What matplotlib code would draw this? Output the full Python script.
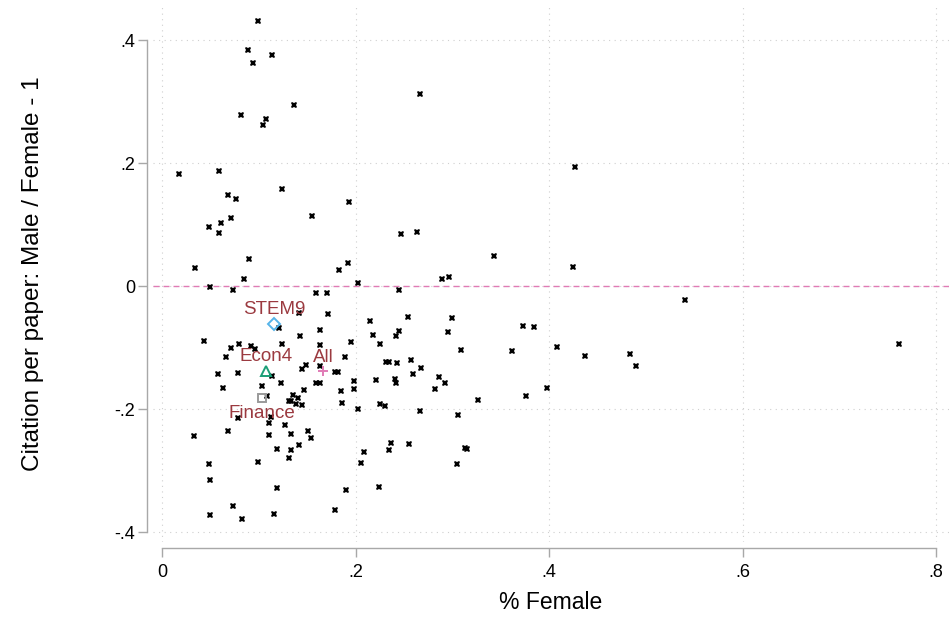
import numpy as np
import matplotlib.pyplot as plt

plt.rcParams['font.family'] = ['Liberation Sans', 'DejaVu Sans']

PNG_FILE = "out.png"

# share of female authors per field and male/female citation gap
pct_female = [
    0.0995, 0.0889, 0.1140, 0.0940, 0.2667, 0.1361, 0.0820, 0.1080, 0.1047, 0.0176,
    0.0592, 0.0679, 0.0765, 0.1240, 0.1936, 0.4269, 0.0483, 0.0607, 0.0713, 0.0592,
    0.1550, 0.2467, 0.2632, 0.0341, 0.0899, 0.0851, 0.0496, 0.0734, 0.1829, 0.1926,
    0.2026, 0.2891, 0.2970, 0.1595, 0.1705, 0.2446, 0.1416, 0.1209, 0.1716, 0.2150,
    0.2543, 0.1633, 0.1429, 0.2184, 0.2450, 0.2419, 0.0431, 0.0716, 0.0799, 0.0920,
    0.0961, 0.1243, 0.1630, 0.1950, 0.2256, 0.2956, 0.2993, 0.0665, 0.0579, 0.0789,
    0.0627, 0.1037, 0.1089, 0.1140, 0.1233, 0.1450, 0.1485, 0.1630, 0.1592, 0.1630,
    0.1471, 0.1891, 0.1788, 0.1822, 0.1847, 0.1984, 0.1981, 0.1354, 0.1402, 0.1312,
    0.1333, 0.1388, 0.1444, 0.1864, 0.2029, 0.2209, 0.2315, 0.2346, 0.2426, 0.2411,
    0.2422, 0.2574, 0.2598, 0.2677, 0.2825, 0.2863, 0.2928, 0.2256, 0.2308, 0.2663,
    0.0786, 0.1124, 0.1109, 0.1274, 0.0682, 0.0334, 0.1106, 0.1330, 0.1506, 0.1543,
    0.1189, 0.1330, 0.1419, 0.1316, 0.2084, 0.2057, 0.2370, 0.2346, 0.2553, 0.0989,
    0.0484, 0.0496, 0.1189, 0.1899, 0.2243, 0.0737, 0.0496, 0.0824, 0.1158, 0.1788,
    0.3428, 0.4251, 0.5409, 0.7614, 0.3734, 0.3848, 0.3094, 0.3621, 0.4083, 0.4375,
    0.4834, 0.4896, 0.3269, 0.3759, 0.3979, 0.3056, 0.3135, 0.3149, 0.3052,
]
cite_gap = [
    0.4310, 0.3850, 0.3760, 0.3630, 0.3130, 0.2940, 0.2790, 0.2720, 0.2630, 0.1830,
    0.1870, 0.1480, 0.1420, 0.1580, 0.1370, 0.1935, 0.0960, 0.1030, 0.1106, 0.0867,
    0.1138, 0.0846, 0.0888, 0.0302, 0.0449, 0.0124, -0.0016, -0.0055, 0.0260, 0.0379,
    0.0049, 0.0114, 0.0151, -0.0114, -0.0109, -0.0065, -0.0429, -0.0673, -0.0455, -0.0559,
    -0.0494, -0.0715, -0.0808, -0.0792, -0.0732, -0.0808, -0.0894, -0.0998, -0.0943, -0.0971,
    -0.1020, -0.0938, -0.0950, -0.0911, -0.0938, -0.0748, -0.0520, -0.1154, -0.1421, -0.1415,
    -0.1659, -0.1626, -0.1789, -0.1459, -0.1572, -0.1345, -0.1280, -0.1296, -0.1577, -0.1577,
    -0.1686, -0.1150, -0.1393, -0.1393, -0.1698, -0.1545, -0.1670, -0.1767, -0.1821, -0.1865,
    -0.1865, -0.1919, -0.1925, -0.1902, -0.1990, -0.1528, -0.1236, -0.1236, -0.1247, -0.1502,
    -0.1577, -0.1203, -0.1421, -0.1333, -0.1675, -0.1470, -0.1567, -0.1909, -0.1951, -0.2028,
    -0.2146, -0.2130, -0.2223, -0.2255, -0.2348, -0.2429, -0.2418, -0.2407, -0.2353, -0.2462,
    -0.2646, -0.2657, -0.2585, -0.2792, -0.2699, -0.2873, -0.2543, -0.2662, -0.2564, -0.2857,
    -0.2894, -0.3145, -0.3285, -0.3312, -0.3259, -0.3567, -0.3719, -0.3784, -0.3698, -0.3642,
    0.0493, 0.0319, -0.0228, -0.0943, -0.0641, -0.0662, -0.1036, -0.1047, -0.0987, -0.1138,
    -0.1096, -0.1291, -0.1844, -0.1789, -0.1654, -0.2093, -0.2634, -0.2650, -0.2885,
]

# field-group averages
group_names = ["STEM9", "Econ4", "All", "Finance"]
group_x     = [0.1161, 0.1072, 0.1667, 0.1034]
group_y     = [-0.0613, -0.1372, -0.1382, -0.1821]

x_ticks  = [0, 0.2, 0.4, 0.6, 0.8]
x_labels = ["0", ".2", ".4", ".6", ".8"]
y_ticks  = [-0.4, -0.2, 0, 0.2, 0.4]
y_labels = ["-.4", "-.2", "0", ".2", ".4"]

AXIS_GRAY  = '#a8a8a8'
GRID_GRAY  = '#cfcfcf'
LABEL_RED  = '#9b3a40'
PINK       = '#e07bb5'

fig = plt.figure(figsize=(9.49, 6.17), dpi=100)
ax = fig.add_axes([153/949, 75/617, 796/949, 537/617])

ax.set_xlim(-0.0093, 0.8134)
ax.set_ylim(-0.4158, 0.4574)

# dotted grid at the labelled ticks
for xv in x_ticks:
    ax.axvline(xv, color=GRID_GRAY, linewidth=0.8, linestyle=(0, (1, 4)), zorder=0)
for yv in y_ticks:
    ax.axhline(yv, color=GRID_GRAY, linewidth=0.8, linestyle=(0, (1, 4)), zorder=0)

ax.axhline(0, color=PINK, linewidth=1.0, linestyle=(0, (4.3, 2.9)), zorder=1)

ax.plot(pct_female, cite_gap, linestyle='none', marker='X', markersize=4.4,
        markeredgewidth=0, color='black', zorder=3)

ax.plot(group_x[0], group_y[0], linestyle='none', marker='D', markersize=6,
        markerfacecolor='none', markeredgecolor='#56b4e9', markeredgewidth=1.4, zorder=4)
ax.plot(group_x[1], group_y[1], linestyle='none', marker='^', markersize=7,
        markerfacecolor='none', markeredgecolor='#1b9e77', markeredgewidth=1.4, zorder=4)
ax.plot(group_x[2], group_y[2], linestyle='none', marker='+', markersize=7,
        markeredgecolor=PINK, markeredgewidth=1.4, zorder=4)
ax.plot(group_x[3], group_y[3], linestyle='none', marker='s', markersize=6,
        markerfacecolor='none', markeredgecolor='#9a9a9a', markeredgewidth=1.4, zorder=4)

for name, gx, gy in zip(group_names, group_x, group_y):
    if name == "Finance":
        ax.annotate(name, (gx, gy), textcoords="offset points", xytext=(0, -5),
                    ha='center', va='top', fontsize=13.5, color=LABEL_RED, zorder=5)
    else:
        ax.annotate(name, (gx, gy), textcoords="offset points", xytext=(0, 4),
                    ha='center', va='bottom', fontsize=13.5, color=LABEL_RED, zorder=5)

for side in ['top', 'right']:
    ax.spines[side].set_visible(False)
ax.spines['left'].set_position(('outward', 4.3))
ax.spines['bottom'].set_position(('outward', 4.3))
ax.spines['left'].set_bounds(-0.4, 0.4)
ax.spines['bottom'].set_bounds(0, 0.8)
for side in ['left', 'bottom']:
    ax.spines[side].set_color(AXIS_GRAY)
    ax.spines[side].set_linewidth(1.0)

ax.set_xticks(x_ticks)
ax.set_xticklabels(x_labels)
ax.set_yticks(y_ticks)
ax.set_yticklabels(y_labels)
ax.tick_params(axis='both', colors=AXIS_GRAY, labelcolor='black', length=6.5,
               width=1.0, labelsize=13)
ax.tick_params(axis='y', pad=2)
ax.tick_params(axis='x', pad=5)

ax.set_xlabel("% Female", fontsize=16.5, labelpad=7)
ax.set_ylabel("Citation per paper: Male / Female - 1", fontsize=17.5, labelpad=51)

plt.savefig(PNG_FILE, dpi=100)
